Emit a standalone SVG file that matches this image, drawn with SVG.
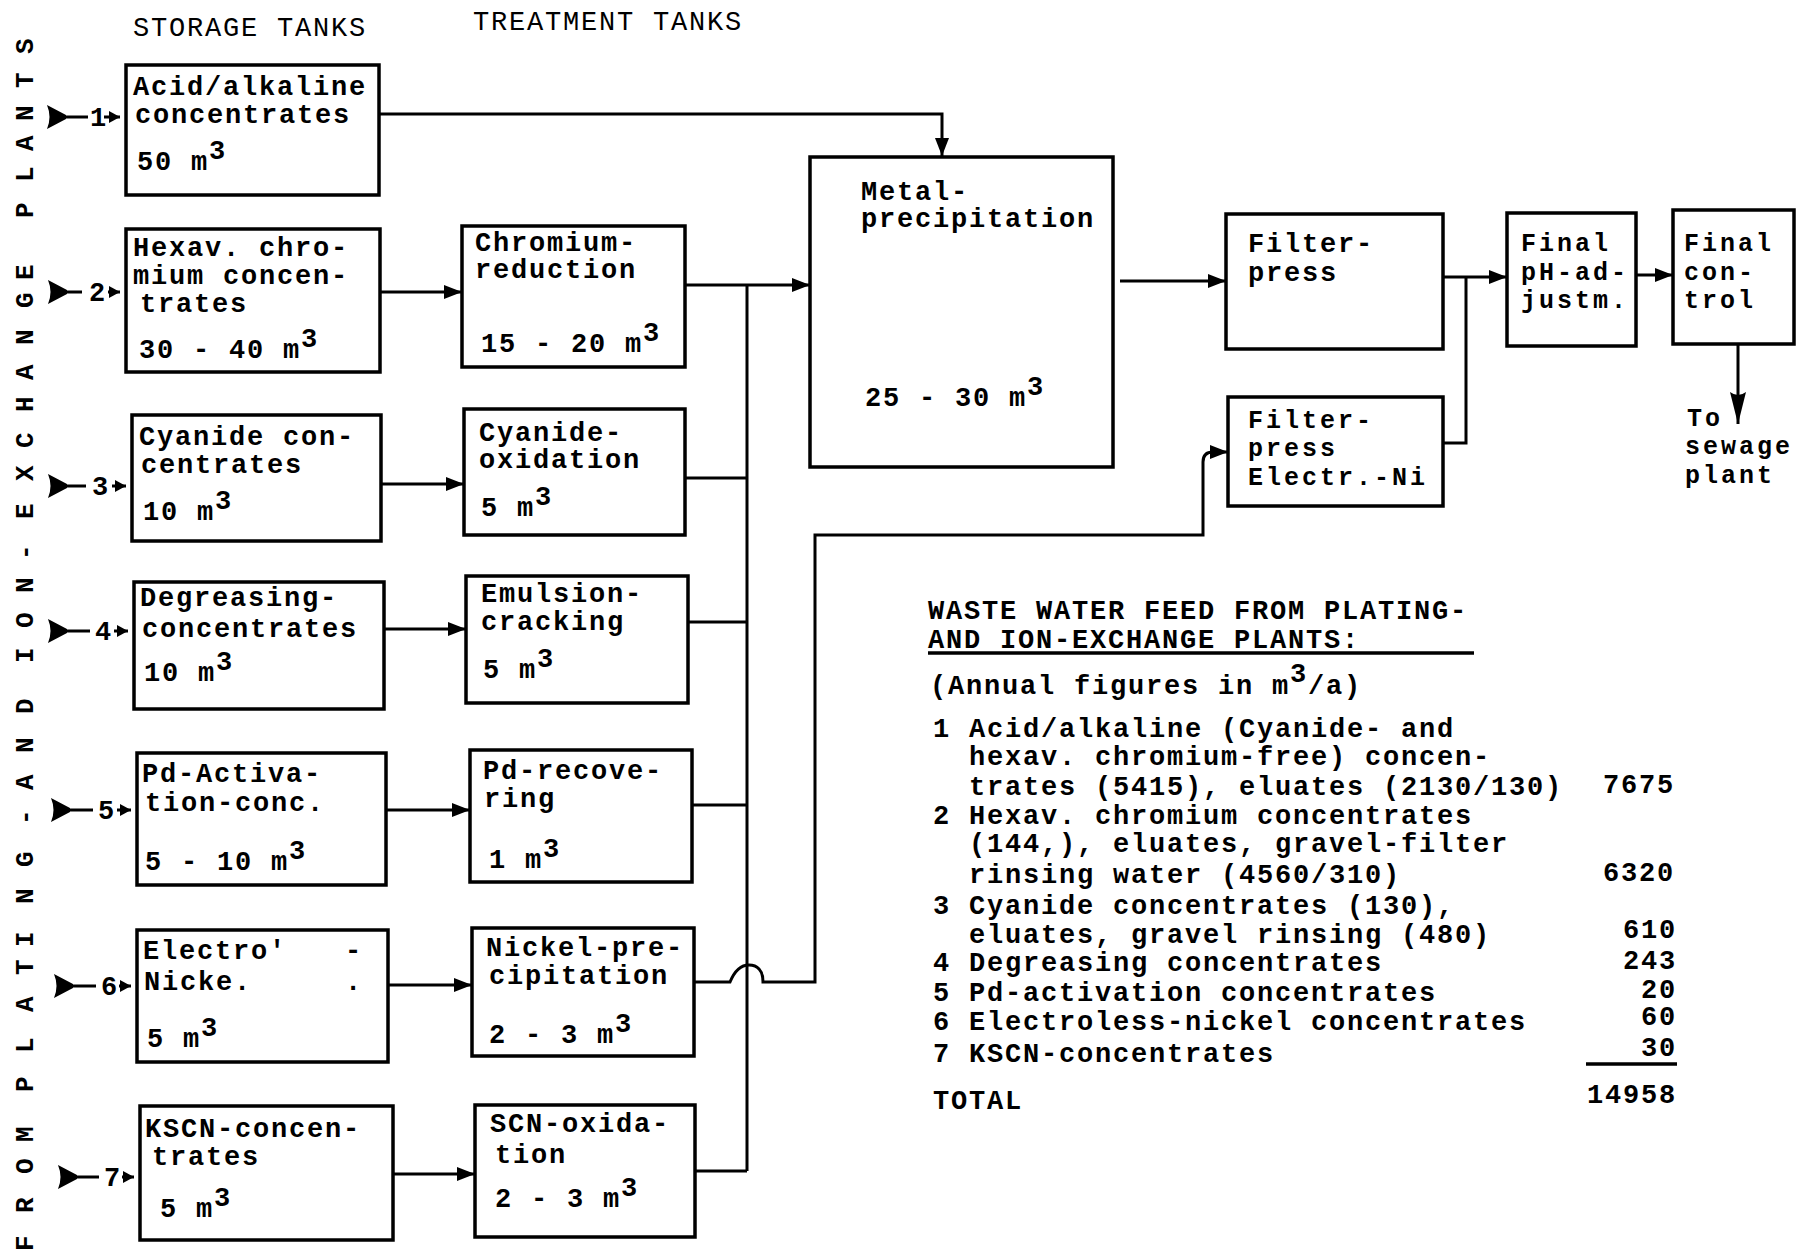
<svg xmlns="http://www.w3.org/2000/svg" width="1796" height="1252" viewBox="0 0 1796 1252">
<style>
.box{fill:none;stroke:#000;stroke-width:3.5}
.ln{fill:none;stroke:#000;stroke-width:3}
.t{font-family:"Liberation Mono","DejaVu Sans Mono",monospace;font-weight:bold;font-size:27px;letter-spacing:1.8px;fill:#000}
.s{font-size:25px;letter-spacing:3px}
.h{font-family:"Liberation Mono","DejaVu Sans Mono",monospace;font-weight:normal;font-size:27px;letter-spacing:1.8px;fill:#000}
.v{font-family:"Liberation Mono","DejaVu Sans Mono",monospace;font-weight:bold;font-size:26px;fill:#000}
.e{text-anchor:end}
</style>
<defs>
<marker id="ah" markerWidth="20" markerHeight="16" refX="18" refY="8" orient="auto" markerUnits="userSpaceOnUse"><path d="M0,1 L18,8 L0,15 Z"/></marker>
<marker id="ahs" markerWidth="12" markerHeight="12" refX="11" refY="6" orient="auto" markerUnits="userSpaceOnUse"><path d="M0,0 L11,6 L0,12 Z"/></marker>
<marker id="ahd" markerWidth="34" markerHeight="18" refX="32" refY="9" orient="auto" markerUnits="userSpaceOnUse"><path d="M0,1 L32,9 L0,17 Q6,9 0,1 Z"/></marker>
<path id="wedge" d="M0,-12 L19,-2 L19,2 L0,12 Q5,0 0,-12 Z"/>
</defs>

<text class="h" x="133" y="36">STORAGE TANKS</text>
<text class="h" x="473" y="30">TREATMENT TANKS</text>

<text class="v" transform="translate(33,1252) rotate(-90)" x="1 39 78 110 135 160 199 240 277 305 348 385 427 445 462 499 538 565 589 624 659 692 733 771 804 840 872 907 944 972 1000 1034 1070 1101 1131 1164 1198" y="0">FROM PLATING- AND ION-EXCHANGE PLANTS</text>

<g id="inlets">
<use href="#wedge" x="47" y="117"/><path class="ln" d="M64,117 H88 M104,117 H120" marker-end="url(#ahs)"/><text class="t" x="90" y="126">1</text>
<use href="#wedge" x="48" y="292"/><path class="ln" d="M65,292 H82 M108,292 H120" marker-end="url(#ahs)"/><text class="t" x="89" y="301">2</text>
<use href="#wedge" x="48" y="486"/><path class="ln" d="M65,486 H86 M112,486 H126" marker-end="url(#ahs)"/><text class="t" x="92" y="495">3</text>
<use href="#wedge" x="48" y="631"/><path class="ln" d="M65,631 H90 M114,631 H128" marker-end="url(#ahs)"/><text class="t" x="95" y="640">4</text>
<use href="#wedge" x="51" y="810"/><path class="ln" d="M68,810 H93 M117,810 H131" marker-end="url(#ahs)"/><text class="t" x="98" y="819">5</text>
<use href="#wedge" x="54" y="986"/><path class="ln" d="M71,986 H96 M119,986 H131" marker-end="url(#ahs)"/><text class="t" x="101" y="995">6</text>
<use href="#wedge" x="58" y="1177"/><path class="ln" d="M75,1177 H99 M122,1177 H134" marker-end="url(#ahs)"/><text class="t" x="104" y="1186">7</text>
</g>

<g id="storage1"><rect class="box" x="126" y="65" width="253" height="130"/>
<text class="t" x="133" y="95">Acid/alkaline</text><text class="t" x="135" y="123">concentrates</text><text class="t" x="137" y="170">50 m<tspan dy="-11">3</tspan></text></g>
<g id="storage2"><rect class="box" x="126" y="229" width="254" height="143"/>
<text class="t" x="133" y="256">Hexav. chro-</text><text class="t" x="133" y="284">mium concen-</text><text class="t" x="140" y="312">trates</text><text class="t" x="139" y="358">30 - 40 m<tspan dy="-11">3</tspan></text></g>
<g id="storage3"><rect class="box" x="132" y="415" width="249" height="126"/>
<text class="t" x="139" y="445">Cyanide con-</text><text class="t" x="141" y="473">centrates</text><text class="t" x="143" y="520">10 m<tspan dy="-11">3</tspan></text></g>
<g id="storage4"><rect class="box" x="134" y="582" width="250" height="127"/>
<text class="t" x="140" y="606">Degreasing-</text><text class="t" x="142" y="637">concentrates</text><text class="t" x="144" y="681">10 m<tspan dy="-11">3</tspan></text></g>
<g id="storage5"><rect class="box" x="137" y="753" width="249" height="132"/>
<text class="t" x="142" y="782">Pd-Activa-</text><text class="t" x="145" y="811">tion-conc.</text><text class="t" x="145" y="870">5 - 10 m<tspan dy="-11">3</tspan></text></g>
<g id="storage6"><rect class="box" x="137" y="930" width="251" height="132"/>
<text class="t" x="143" y="959">Electro'<tspan x="345">-</tspan></text><text class="t" x="144" y="990">Nicke.<tspan x="345">.</tspan></text><text class="t" x="147" y="1047">5 m<tspan dy="-11">3</tspan></text></g>
<g id="storage7"><rect class="box" x="140" y="1106" width="253" height="134"/>
<text class="t" x="145" y="1137">KSCN-concen-</text><text class="t" x="152" y="1165">trates</text><text class="t" x="160" y="1217">5 m<tspan dy="-11">3</tspan></text></g>

<g id="treat2"><rect class="box" x="462" y="226" width="223" height="141"/>
<text class="t" x="475" y="251">Chromium-</text><text class="t" x="475" y="278">reduction</text><text class="t" x="481" y="352">15 - 20 m<tspan dy="-11">3</tspan></text></g>
<g id="treat3"><rect class="box" x="464" y="409" width="221" height="126"/>
<text class="t" x="479" y="441">Cyanide-</text><text class="t" x="479" y="468">oxidation</text><text class="t" x="481" y="516">5 m<tspan dy="-11">3</tspan></text></g>
<g id="treat4"><rect class="box" x="466" y="576" width="222" height="127"/>
<text class="t" x="481" y="602">Emulsion-</text><text class="t" x="481" y="630">cracking</text><text class="t" x="483" y="678">5 m<tspan dy="-11">3</tspan></text></g>
<g id="treat5"><rect class="box" x="470" y="750" width="222" height="132"/>
<text class="t" x="483" y="779">Pd-recove-</text><text class="t" x="484" y="807">ring</text><text class="t" x="489" y="868">1 m<tspan dy="-11">3</tspan></text></g>
<g id="treat6"><rect class="box" x="472" y="928" width="222" height="128"/>
<text class="t" x="486" y="956">Nickel-pre-</text><text class="t" x="489" y="984">cipitation</text><text class="t" x="489" y="1043">2 - 3 m<tspan dy="-11">3</tspan></text></g>
<g id="treat7"><rect class="box" x="475" y="1105" width="220" height="132"/>
<text class="t" x="490" y="1132">SCN-oxida-</text><text class="t" x="495" y="1163">tion</text><text class="t" x="495" y="1207">2 - 3 m<tspan dy="-11">3</tspan></text></g>

<g id="metal"><rect class="box" x="810" y="157" width="303" height="310"/>
<text class="t" x="861" y="200">Metal-</text><text class="t" x="861" y="227">precipitation</text><text class="t" x="865" y="406">25 - 30 m<tspan dy="-11">3</tspan></text></g>
<g id="filter"><rect class="box" x="1226" y="214" width="217" height="135"/>
<text class="t" x="1248" y="252">Filter-</text><text class="t" x="1248" y="281">press</text></g>
<g id="filterni"><rect class="box" x="1228" y="397" width="215" height="109"/>
<text class="t s" x="1248" y="428">Filter-</text><text class="t s" x="1248" y="456">press</text><text class="t s" x="1248" y="485">Electr.-Ni</text></g>
<g id="ph"><rect class="box" x="1507" y="213" width="129" height="133"/>
<text class="t s" x="1521" y="251">Final</text><text class="t s" x="1521" y="280">pH-ad-</text><text class="t s" x="1521" y="308">justm.</text></g>
<g id="control"><rect class="box" x="1673" y="210" width="121" height="134"/>
<text class="t s" x="1684" y="251">Final</text><text class="t s" x="1684" y="280">con-</text><text class="t s" x="1684" y="308">trol</text></g>
<g id="sewage">
<text class="t s" x="1687" y="426">To</text><text class="t s" x="1685" y="454">sewage</text><text class="t s" x="1685" y="483">plant</text></g>

<g id="connectors">
<path class="ln" d="M379,114 H942 V156" marker-end="url(#ah)"/>
<path class="ln" d="M380,292 H462" marker-end="url(#ah)"/>
<path class="ln" d="M381,484 H464" marker-end="url(#ah)"/>
<path class="ln" d="M384,629 H466" marker-end="url(#ah)"/>
<path class="ln" d="M386,810 H470" marker-end="url(#ah)"/>
<path class="ln" d="M388,985 H472" marker-end="url(#ah)"/>
<path class="ln" d="M393,1174 H475" marker-end="url(#ah)"/>
<path class="ln" d="M685,285 H810" marker-end="url(#ah)"/>
<path class="ln" d="M747,285 V1171"/>
<path class="ln" d="M685,478 H747 M688,622 H747 M692,805 H747 M695,1171 H747"/>
<path class="ln" d="M694,982 H730 C735,970 742,965 749,965 C757,965 763,970 763,982 H815 V535 H1203 V462 Q1203,452 1213,452 H1228" marker-end="url(#ah)"/>
<path class="ln" d="M1120,281 H1226" marker-end="url(#ah)"/>
<path class="ln" d="M1443,277 H1507" marker-end="url(#ah)"/>
<path class="ln" d="M1466,277 V443 H1443"/>
<path class="ln" d="M1636,275 H1673" marker-end="url(#ah)"/>
<path class="ln" d="M1738,344 V424" marker-end="url(#ahd)"/>
</g>

<g id="table">
<text class="t" x="928" y="619">WASTE WATER FEED FROM PLATING-</text>
<text class="t" x="928" y="648">AND ION-EXCHANGE PLANTS:</text>
<path d="M928,653 H1474" stroke="#000" stroke-width="3.5"/>
<text class="t" x="930" y="694">(Annual figures in m<tspan dy="-12">3</tspan><tspan dy="12">/a)</tspan></text>
<text class="t" x="933" y="737">1 Acid/alkaline (Cyanide- and</text>
<text class="t" x="969" y="765">hexav. chromium-free) concen-</text>
<text class="t" x="969" y="795">trates (5415), eluates (2130/130)</text>
<text class="t e" x="1675" y="793">7675</text>
<text class="t" x="933" y="824">2 Hexav. chromium concentrates</text>
<text class="t" x="969" y="852">(144,), eluates, gravel-filter</text>
<text class="t" x="969" y="883">rinsing water (4560/310)</text>
<text class="t e" x="1675" y="881">6320</text>
<text class="t" x="933" y="914">3 Cyanide concentrates (130),</text>
<text class="t" x="969" y="943">eluates, gravel rinsing (480)</text>
<text class="t e" x="1677" y="938">610</text>
<text class="t" x="933" y="971">4 Degreasing concentrates</text>
<text class="t e" x="1677" y="969">243</text>
<text class="t" x="933" y="1001">5 Pd-activation concentrates</text>
<text class="t e" x="1677" y="998">20</text>
<text class="t" x="933" y="1030">6 Electroless-nickel concentrates</text>
<text class="t e" x="1677" y="1025">60</text>
<text class="t" x="933" y="1062">7 KSCN-concentrates</text>
<text class="t e" x="1677" y="1056">30</text>
<path d="M1586,1064 H1677" stroke="#000" stroke-width="3.5"/>
<text class="t" x="933" y="1109">TOTAL</text>
<text class="t e" x="1677" y="1103">14958</text>
</g>
</svg>
